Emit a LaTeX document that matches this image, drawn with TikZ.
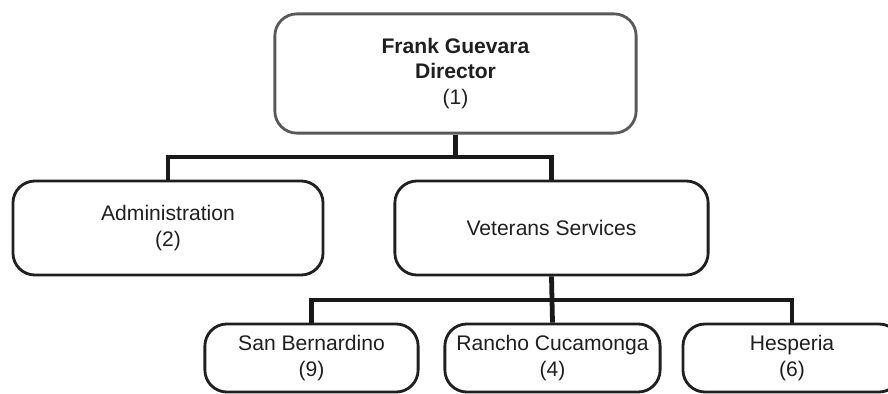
\documentclass[tikz,border=0pt]{standalone}
\usepackage{fontspec}
\setmainfont{Liberation Sans}
\usetikzlibrary{positioning}
\tikzset{
  unit box/.style={
    draw, rectangle, rounded corners=0.55cm,
    draw=black!88, line width=2pt,
    inner sep=0pt, align=center, text=black!88,
    font=\fontsize{15}{18.4}\selectfont
  },
  head box/.style={
    unit box, draw=black!65,
    minimum width=9.03cm, minimum height=2.98cm
  },
  dept box/.style={
    unit box, minimum height=2.35cm
  },
  office box/.style={
    unit box, minimum height=1.7cm
  },
  org line/.style={
    line width=3.4pt, draw=black!90
  },
}

\begin{document}
\begin{tikzpicture}[x=0.025cm, y=-0.025cm]

  \useasboundingbox (0,0) rectangle (888,394);

  \node[head box] (dir) at (455.5,73.5)
    {\textbf{Frank Guevara}\\\textbf{Director}\\(1)};

  \node[dept box, minimum width=7.75cm]  (admin) at (168,228)
    {Administration\\(2)};
  \node[dept box, minimum width=7.83cm]  (vets)  at (551.5,228)
    {Veterans Services};

  \node[office box, minimum width=5.33cm] (sanb)   at (311.5,358)
    {San Bernardino\\(9)};
  \node[office box, minimum width=5.38cm] (rancho) at (552.5,358)
    {Rancho Cucamonga\\(4)};
  \node[office box, minimum width=5.45cm] (hesp)   at (792,358)
    {Hesperia\\(6)};

  \coordinate (dir join)  at (455.5,157);
  \coordinate (vets join) at (552,300);

  \draw[org line] (dir.south) -- (dir join);
  \draw[org line] (admin.north) |- (dir join) -| (vets.north);

  \draw[org line] (vets.south) -- (vets join);
  \draw[org line] (sanb.north) |- (vets join) -| (hesp.north);
  \draw[org line] (vets join) -- (rancho.north);

\end{tikzpicture}
\end{document}
